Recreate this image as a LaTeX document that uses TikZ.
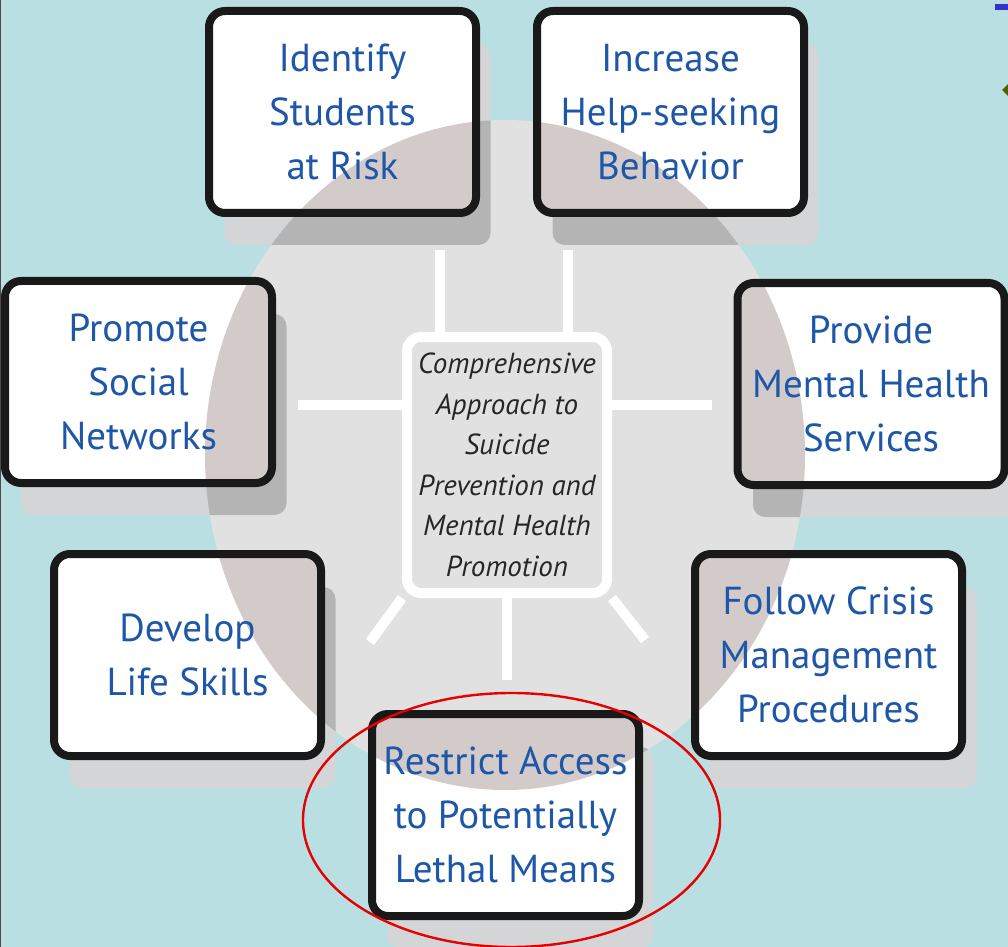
\documentclass[tikz,border=0pt]{standalone}
\usepackage{fontspec}
\setmainfont{PT Sans}
\usetikzlibrary{calc}
\definecolor{sky}{HTML}{BADFE2}
\definecolor{disc}{HTML}{E1E1E1}
\definecolor{discbrown}{HTML}{D3CBC9}
\definecolor{shadelight}{HTML}{D3D5D6}
\definecolor{shadedark}{HTML}{B4B4B4}
\definecolor{inkblue}{HTML}{1E56A8}
\definecolor{hubtext}{HTML}{262626}
\definecolor{ringred}{HTML}{E60000}
\definecolor{barblue}{HTML}{3333CC}
\definecolor{olive}{HTML}{4D6100}
% centres of the seven strategy tiles
\newcommand{\tilespots}{342.5/112, 670.5/112, 138.5/382, 871/384, 187.5/655, 828.5/655, 505.5/815}

\tikzset{
  tile/.style={draw=black!90, line width=4pt, fill=white, rounded corners=8pt,
    minimum width=133.5pt, minimum height=101pt, inner sep=0pt, align=center,
    text=inkblue, font=\fontsize{19.5}{27}\selectfont,
    path picture={\fill[discbrown] (hubc) ellipse [x radius=150pt, y radius=167.5pt];}},
  hubbox/.style={draw=white, line width=5pt, fill=disc, rounded corners=7pt,
    minimum width=100pt, minimum height=128pt, inner sep=0pt, align=center,
    text=hubtext, font=\itshape\fontsize{14.5}{20.25}\selectfont},
  spoke/.style={white, line width=5pt},
  tileshadow/.style={rounded corners=6pt}
}

\begin{document}
\begin{tikzpicture}[x=0.5pt, y=-0.5pt]
  \fill[sky] (0,0) rectangle (1008,947);
  \useasboundingbox (0,0) rectangle (1008,947);
  \draw[black!70, line width=0.5pt] (0.5,0) -- (0.5,947);
  \coordinate (hubc) at (505,455);

  % shadows behind the tiles
  \foreach \cx/\cy in \tilespots
    \fill[shadelight, tileshadow] (\cx-118,\cy-68) rectangle (\cx+148,\cy+133);

  % grey disc, shadows darker where they fall on it
  \fill[disc] (hubc) ellipse [x radius=150pt, y radius=167.5pt];
  \begin{scope}
    \clip (hubc) ellipse [x radius=150pt, y radius=167.5pt];
    \foreach \cx/\cy in \tilespots
      \fill[shadedark, tileshadow] (\cx-118,\cy-68) rectangle (\cx+148,\cy+133);
  \end{scope}

  % hub and its spokes
  \coordinate (sTL) at (440,250);
  \coordinate (sTR) at (568,250);
  \coordinate (sL) at (298,405);
  \coordinate (sR) at (712,405);
  \coordinate (sB) at (507,680);
  \coordinate (sBL) at (370,642);
  \coordinate (sBR) at (645,640);
  \node[hubbox] (hub) at (507,465)
    {Comprehensive\\Approach to\\Suicide\\Prevention and\\Mental Health\\Promotion};
  \draw[spoke] (sTL) -- (sTL |- hub.north);
  \draw[spoke] (sTR) -- (sTR |- hub.north);
  \draw[spoke] (sL) -- (sL -| hub.west);
  \draw[spoke] (sR) -- (sR -| hub.east);
  \draw[spoke] (sB) -- (sB |- hub.south);
  \draw[spoke] (hub.south west) -- (sBL);
  \draw[spoke] (hub.south east) -- (sBR);

  % strategy tiles
  \node[tile] (risk) at (342.5,112) {Identify\\Students\\at Risk};
  \node[tile] (help) at (670.5,112) {Increase\\Help-seeking\\Behavior};
  \node[tile] (social) at (138.5,382) {Promote\\Social\\Networks};
  \node[tile] (care) at (871,384) {Provide\\Mental Health\\Services};
  \node[tile] (skills) at (187.5,655) {Develop\\Life Skills};
  \node[tile] (crisis) at (828.5,655) {Follow Crisis\\Management\\Procedures};
  \node[tile] (means) at (505.5,815) {Restrict Access\\to Potentially\\Lethal Means};

  % red ring round the last tile
  \coordinate (ringc) at (511.5,820);
  \draw[ringred, line width=1.2pt] (ringc) ellipse [x radius=104.25pt, y radius=63.5pt];

  % bits at the top right
  \fill[barblue] (995,4) rectangle (1008,10);
  \fill[olive] (1002,90) -- (1008,84) -- (1008,96) -- cycle;
\end{tikzpicture}
\end{document}
